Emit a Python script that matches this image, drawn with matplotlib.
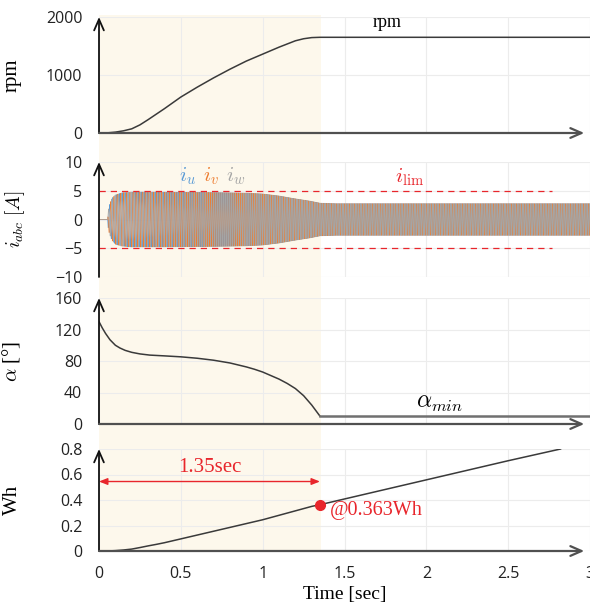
import numpy as np
import matplotlib
matplotlib.use("Agg")
import matplotlib.pyplot as plt
from matplotlib.patches import Rectangle

plt.rcParams["mathtext.fontset"] = "cm"
plt.rcParams["font.family"] = ["Open Sans", "DejaVu Sans"]

# speed profile [s, rpm]
rpm_t = [0, 0.05, 0.1, 0.15, 0.2, 0.25, 0.3, 0.4, 0.5, 0.6, 0.7, 0.8, 0.9, 1.0,
         1.1, 1.2, 1.25, 1.3, 1.35, 3.0]
rpm_v = [0, 2, 15, 38, 72, 140, 230, 420, 620, 790, 950, 1100, 1240, 1360,
         1480, 1590, 1625, 1645, 1650, 1650]

# current amplitude envelope [s, A]
env_t = [0, 0.053, 0.056, 0.062, 0.067, 0.08, 0.1, 0.14, 0.2, 0.4, 0.7, 0.9, 1.0, 1.1, 1.2, 1.29, 1.35, 1.45, 3.0]
env_v = [0, 0, 1.5, 2.3, 2.8, 3.7, 4.3, 4.65, 4.8, 4.78, 4.7, 4.6, 4.45, 4.1, 3.6, 3.2, 2.85, 2.75, 2.75]
i_lim = 5.0

# current angle [s, deg]
alpha_t = [0, 0.02, 0.04, 0.067, 0.1, 0.128, 0.16, 0.2, 0.25, 0.31, 0.4, 0.5, 0.6, 0.7,
           0.8, 0.9, 0.95, 1.0, 1.05, 1.1, 1.15, 1.2, 1.25, 1.3, 1.35, 3.0]
alpha_v = [130, 122, 115, 107, 100, 96.5, 93.5, 91, 89, 87.5, 86.5, 85.3, 83.5, 81,
           77.5, 72.5, 69.5, 66, 61.5, 57, 51.5, 45, 36, 24, 10, 10]

# energy [s, Wh]
wh_t = [0, 0.05, 0.1, 0.15, 0.2, 0.25, 0.3, 0.35, 0.4, 0.45, 0.5, 0.6, 0.7, 0.8, 0.9,
        1.0, 1.1, 1.2, 1.3, 1.35, 2.0, 2.5, 2.82]
wh_v = [0, 0, 0.003, 0.008, 0.015, 0.027, 0.04, 0.052, 0.065, 0.08, 0.095, 0.125, 0.155,
        0.185, 0.215, 0.245, 0.28, 0.315, 0.35, 0.363, 0.558, 0.708, 0.8]

t_end = 1.35
wh_end = 0.363

C_U, C_V, C_W = "#5b9bd5", "#ed7d31", "#a5a5a5"
RED = "#e8262c"
CURVE = "#3a3a3a"
AXC = "#505050"
SHADE = "#fdf8ec"
SERIF = "Liberation Serif"

W, H = 590, 609
fig = plt.figure(figsize=(W / 100, H / 100), dpi=100)
fig.patch.set_facecolor("white")

X0, X1 = 99, 590
xmax = (X1 - X0) / 164.0


def add_panel(top, bottom):
    return fig.add_axes([X0 / W, 1 - bottom / H, (X1 - X0) / W, (bottom - top) / H])


# pixel extents of each panel (top, bottom)
ax1 = add_panel(17, 133)
ax2 = add_panel(162, 277)
ax3 = add_panel(298, 424)
ax4 = add_panel(449, 551)
axes = [ax1, ax2, ax3, ax4]

# acceleration window shading behind all panels
fig.patches.append(Rectangle((X0 / W, 1 - 552 / H), (321 - X0) / W, (552 - 15) / H,
                             transform=fig.transFigure, facecolor=SHADE,
                             edgecolor="none", zorder=-10))

for ax in axes:
    ax.set_facecolor("none")
    for s in ax.spines.values():
        s.set_visible(False)
    ax.set_xlim(0, xmax)
    ax.set_xticks(np.arange(0, 3.01, 0.5))
    ax.grid(True, color="#ececec", lw=0.8)
    ax.set_axisbelow(True)
    ax.tick_params(length=0, labelsize=11.5, labelcolor="#222222", pad=12)
    ax.yaxis.set_label_coords(-77 / (X1 - X0), 0.5)

for ax in axes[:3]:
    ax.tick_params(labelbottom=False)
ax4.tick_params(axis="x", pad=11)


def yarrow(ax, y0, y1):
    ax.annotate("", xy=(0, y1), xytext=(0, y0), xycoords="data",
                arrowprops=dict(arrowstyle="->,head_length=0.8,head_width=0.35",
                                color="#111111", lw=1.3, shrinkA=0, shrinkB=0),
                annotation_clip=False)


def xarrow(ax, y):
    ax.annotate("", xy=(2.965, y), xytext=(0, y), xycoords="data",
                arrowprops=dict(arrowstyle="->,head_length=0.8,head_width=0.35",
                                color=AXC, lw=1.6, shrinkA=0, shrinkB=0),
                annotation_clip=False)


# speed
ax1.set_ylim(0, 2000)
ax1.set_yticks([0, 1000, 2000])
ax1.plot(rpm_t, rpm_v, color=CURVE, lw=1.1)
ax1.set_ylabel("rpm", fontfamily=SERIF, fontsize=15)
ax1.text(1.76, 1900, "rpm", fontfamily=SERIF, fontsize=13, ha="center", va="center")
yarrow(ax1, 0, 2000)
xarrow(ax1, 0)

# phase currents
ax2.set_ylim(-10, 10)
ax2.set_yticks([-10, -5, 0, 5, 10])
t = np.linspace(0, 3.0, 60000)
amp = np.interp(t, env_t, env_v)
freq = 50 + 50 * np.interp(t, rpm_t, rpm_v) / 1650.0
theta = 2 * np.pi * np.cumsum(freq) * (t[1] - t[0])
for k, c in enumerate([C_U, C_V, C_W]):
    ax2.plot(t, amp * np.sin(theta - k * 2 * np.pi / 3), color=c, lw=0.5)
ax2.plot([0, 2.77], [i_lim, i_lim], color=RED, lw=0.9, ls=(0, (5, 4)))
ax2.plot([0, 2.77], [-i_lim, -i_lim], color=RED, lw=0.9, ls=(0, (5, 4)))
ax2.text(0.54, 7.6, r"$i_u$", color=C_U, fontsize=15, ha="center", va="center")
ax2.text(0.685, 7.6, r"$i_v$", color=C_V, fontsize=15, ha="center", va="center")
ax2.text(0.835, 7.6, r"$i_w$", color=C_W, fontsize=15, ha="center", va="center")
ax2.text(1.9, 7.4, r"$i_{\mathrm{lim}}$", color=RED, fontsize=15, ha="center", va="center")
ax2.set_ylabel(r"$i_{abc}\ [A]$", fontsize=14)
ax2.yaxis.set_label_coords(-72 / (X1 - X0), 0.5)
yarrow(ax2, -10, 10)

# current angle
ax3.set_ylim(0, 160)
ax3.set_yticks([0, 40, 80, 120, 160])
ax3.plot(alpha_t[:-1], alpha_v[:-1], color=CURVE, lw=1.1)
ax3.plot(alpha_t[-2:], alpha_v[-2:], color="#707070", lw=1.8)
ax3.text(2.08, 28, r"$\alpha_{min}$", fontsize=17, ha="center", va="center")
ax3.set_ylabel(r"$\alpha$ [°]", fontsize=15, fontfamily=SERIF)
yarrow(ax3, 0, 160)
xarrow(ax3, 0)

# energy
ax4.set_ylim(0, 0.8)
ax4.set_yticks([0, 0.2, 0.4, 0.6, 0.8])
ax4.set_yticklabels(["0", "0.2", "0.4", "0.6", "0.8"])
ax4.set_xticklabels(["0", "0.5", "1", "1.5", "2", "2.5", "3"])
ax4.plot(wh_t, wh_v, color=CURVE, lw=1.1)
ax4.plot([t_end], [wh_end], "o", color=RED, ms=7, zorder=5)
ax4.annotate("", xy=(t_end, 0.545), xytext=(0, 0.545),
             arrowprops=dict(arrowstyle="<|-|>,head_length=0.5,head_width=0.2",
                             color=RED, lw=1.0, shrinkA=0, shrinkB=0))
ax4.text(t_end / 2, 0.655, f"{t_end}sec", color=RED, fontfamily=SERIF,
         fontsize=15, ha="center", va="center")
ax4.text(t_end + 0.06, 0.32, f"@{wh_end}Wh", color=RED, fontfamily=SERIF,
         fontsize=14.5, ha="left", va="center")
ax4.set_ylabel("Wh", fontfamily=SERIF, fontsize=15)
ax4.set_xlabel("Time [sec]", fontfamily=SERIF, fontsize=14, labelpad=3)
yarrow(ax4, 0, 0.8)
xarrow(ax4, 0)

fig.savefig("out.png", dpi=100, facecolor="white")
